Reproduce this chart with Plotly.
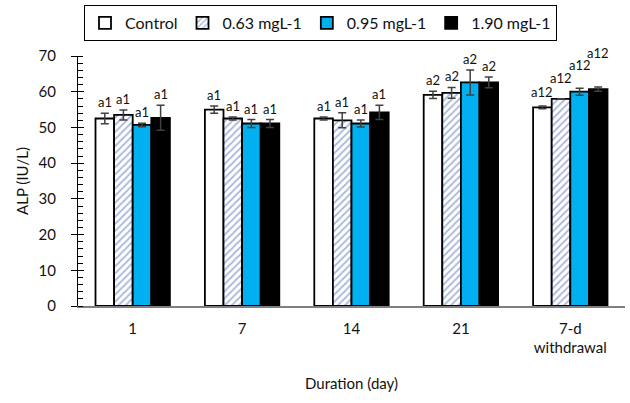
import plotly.graph_objects as go

categories = ["1", "7", "14", "21", "7-d<br>withdrawal"]
series_names = ["Control", "0.63 mgL-1", "0.95 mgL-1", "1.90 mgL-1"]
control = [52.5, 55.0, 52.5, 59.1, 55.6]
dose_063 = [53.5, 52.5, 52.0, 59.7, 58.0]
dose_095 = [50.7, 51.1, 51.1, 62.6, 60.0]
dose_190 = [52.7, 51.1, 54.2, 62.6, 60.7]
err_control = [1.5, 1.0, 0.4, 1.0, 0.4]
err_063 = [1.4, 0.4, 2.1, 1.5, 0.0]
err_095 = [0.5, 1.1, 1.0, 3.5, 1.0]
err_190 = [3.5, 1.1, 2.0, 1.5, 0.6]
labels_control = ["a1", "a1", "a1", "a2", "a12"]
labels_063 = ["a1", "a1", "a1", "a2", "a12"]
labels_095 = ["a1", "a1", "a1", "a2", "a12"]
labels_190 = ["a1", "a1", "a1", "a2", "a12"]

values = [control, dose_063, dose_095, dose_190]
errors = [err_control, err_063, err_095, err_190]
labels = [labels_control, labels_063, labels_095, labels_190]

FONT = "Lato"
TXT = "#111111"

styles = [
    dict(color="white", pattern=None),
    dict(color="white", pattern=dict(shape="/", fgcolor="#5470b8", bgcolor="white", size=5, solidity=0.35)),
    dict(color="#00b0f0", pattern=None),
    dict(color="black", pattern=None),
]

fig = go.Figure()
for name, vals, errs, st in zip(series_names, values, errors, styles):
    marker = dict(color=st["color"], line=dict(color="black", width=1.8))
    if st["pattern"]:
        marker["pattern"] = st["pattern"]
    fig.add_trace(go.Bar(
        x=categories, y=vals, name=name, marker=marker,
        error_y=dict(type="data", array=errs, visible=True, color="#404040", thickness=1.5, width=4),
    ))

bargap = 0.32
bw = (1 - bargap) / 4
# extra lift of labels (px) for the staggered last group
extra_shift = [[0, 0, 0, 0, 3], [0, 0, 0, 0, 10], [0, 0, 0, 0, 12], [0, 0, 0, 0, 23]]
for j in range(4):
    for i in range(len(categories)):
        fig.add_annotation(
            x=i + (j - 1.5) * bw, y=values[j][i] + errors[j][i], xref="x", yref="y",
            text=labels[j][i], showarrow=False, yanchor="middle",
            yshift=11 + extra_shift[j][i], font=dict(family=FONT, size=13, color=TXT),
        )

fig.update_layout(
    width=630, height=403,
    margin=dict(l=78, r=5, t=56, b=97, autoexpand=False),
    paper_bgcolor="white", plot_bgcolor="white",
    barmode="group", bargap=bargap, bargroupgap=0,
    font=dict(family=FONT, size=14, color=TXT),
    showlegend=True,
    legend=dict(orientation="h", xref="container", yref="container",
                x=84/630, xanchor="left", y=1 - 5/403, yanchor="top",
                bordercolor="black", borderwidth=1, bgcolor="white",
                font=dict(family=FONT, size=16, color=TXT),
                traceorder="normal", itemwidth=30, tracegroupgap=0),
    xaxis=dict(showline=True, linecolor="#7f7f7f", linewidth=1.5, ticks="", automargin=False,
               ticklabelstandoff=8,
               tickfont=dict(family=FONT, size=15, color=TXT),
               title=dict(text="Duration (day)", font=dict(family=FONT, size=15, color=TXT), standoff=23)),
    yaxis=dict(range=[0, 70], dtick=10, showgrid=False, zeroline=False, automargin=False,
               showline=True, linecolor="black", linewidth=1,
               ticks="outside", ticklen=6, tickcolor="black", ticklabelstandoff=12,
               minor=dict(dtick=2, ticks="inside", ticklen=5, tickcolor="black"),
               tickfont=dict(family=FONT, size=15, color=TXT),
               title=dict(text="ALP (IU/L)", font=dict(family=FONT, size=15, color=TXT), standoff=6)),
    yaxis2=dict(range=[0, 70], dtick=10, overlaying="y", side="left", showgrid=False, zeroline=False,
                automargin=False, showline=False, ticks="inside", ticklen=6, tickcolor="black",
                showticklabels=False),
)
fig.add_trace(go.Scatter(x=[categories[0]], y=[0], yaxis="y2", mode="markers",
                         marker=dict(opacity=0), showlegend=False, hoverinfo="skip"))

fig.write_html("out.html", config={"displayModeBar": False})

# remove the default page margin so the figure sits at the window's corner
with open("out.html", "r", encoding="utf-8") as f:
    html = f.read()
html = html.replace("<body>", '<body style="margin:0;padding:0;">', 1)
with open("out.html", "w", encoding="utf-8") as f:
    f.write(html)
